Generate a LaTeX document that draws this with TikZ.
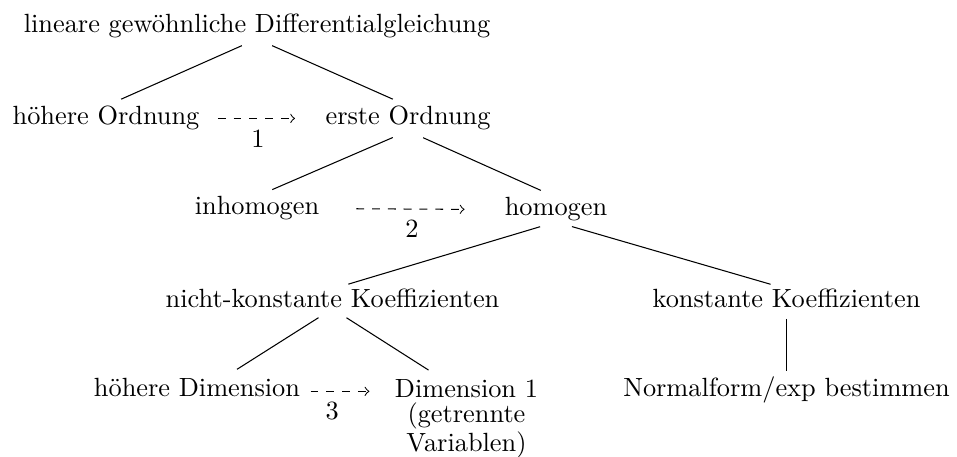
\documentclass[tikz,border=0pt]{standalone}
\usepackage{fontspec}
\usetikzlibrary{calc}

\begin{document}
\begin{tikzpicture}[x=0.3798pt, y=-0.3798pt, every node/.style={inner sep=0pt},
  edge/.style={shorten <=6.3pt, shorten >=6.3pt},
  hint/.style={->, dashed},
  lbl/.style={below=4pt}]
  \useasboundingbox (0,0) rectangle (957,457);
  \node[anchor=base] (root) at (257,33) {lineare gewöhnliche Differentialgleichung};
  \node[anchor=base] (hoeherO) at (106,125) {höhere Ordnung};
  \node[anchor=base] (ersteO) at (408,125) {erste Ordnung};
  \node[anchor=base] (inhomogen) at (257,215) {inhomogen};
  \node[anchor=base] (homogen) at (556,216) {homogen};
  \node[anchor=base] (nichtkonst) at (332.5,308) {nicht-konstante Koeffizienten};
  \node[anchor=base] (konst) at (786.5,308) {konstante Koeffizienten};
  \node[anchor=base] (hoeherD) at (197,397) {höhere Dimension};
  \node[anchor=north, align=center, font=\fontsize{10pt}{9.5pt}\selectfont] (dimeins) at (466.5,379)
    {Dimension 1\\(getrennte\\Variablen)};
  \node[anchor=base] (normal) at (786.5,397) {Normalform/exp bestimmen};

  \foreach \von/\nach/\dx in {root/hoeherO/0, root/ersteO/0, ersteO/inhomogen/0, ersteO/homogen/0,
      homogen/nichtkonst/0, homogen/konst/0, nichtkonst/hoeherD/26, nichtkonst/dimeins/-24}
    \draw[edge] (\von.south) -- ($(\nach.north)+(\dx,0)$);
  \draw[shorten <=3.8pt, shorten >=2pt] (konst.south) -- (normal.north);

  \draw[hint, shorten <=6.8pt, shorten >=11.4pt] (hoeherO.east) -- node[lbl, pos=0.464] (l1) {1} (ersteO.west);
  \draw[hint, shorten <=13.9pt, shorten >=15.1pt] (inhomogen.east) -- node[lbl, pos=0.5] (l2) {2} (homogen.west);
  \draw[hint, shorten <=3.8pt, shorten >=9.5pt] (hoeherD.mid east) -- node[lbl, pos=0.337] (l3) {3} (hoeherD.mid east -| dimeins.west);
\end{tikzpicture}
\end{document}
